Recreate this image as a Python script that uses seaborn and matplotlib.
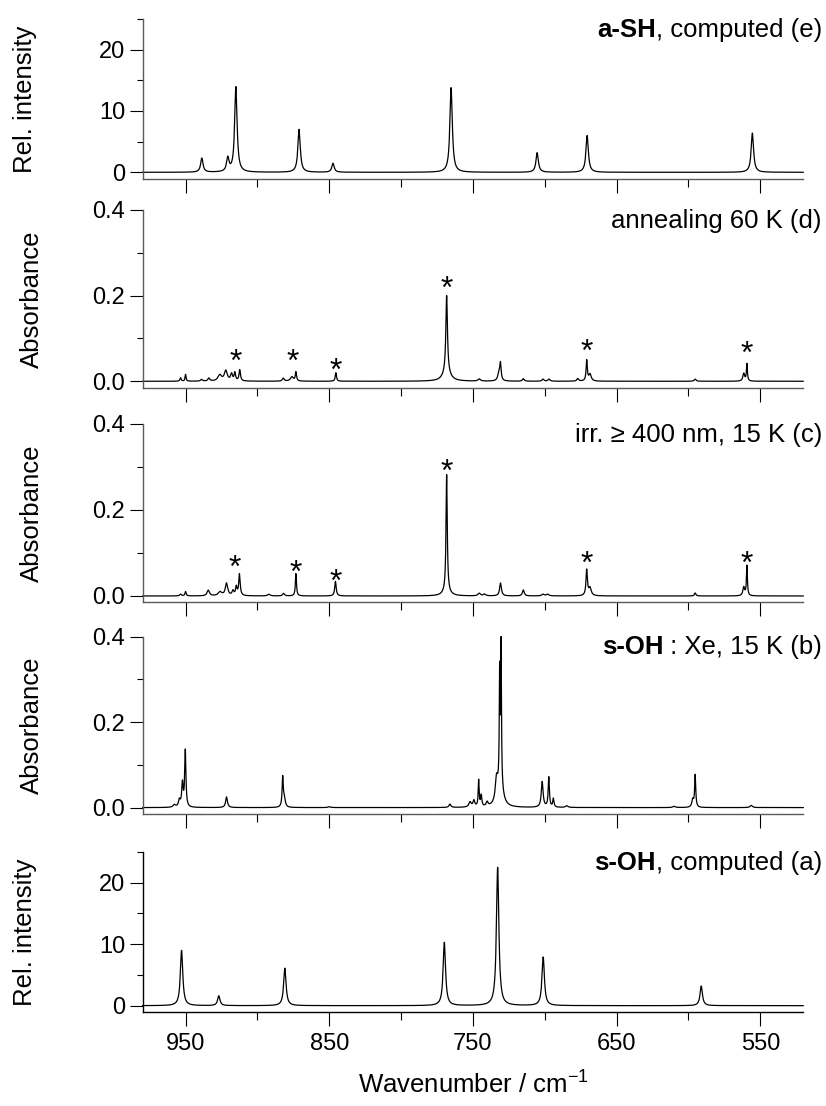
import numpy as np
import pandas as pd
import matplotlib
matplotlib.use("Agg")
import matplotlib.pyplot as plt
from matplotlib.ticker import FixedLocator, FormatStrFormatter
import seaborn as sns

# ---------------- data ----------------
# peak tables: position (cm-1), height, FWHM (cm-1)
e_pos = [938.7, 920.6, 915.0, 871.0, 847.4, 765.2, 705.3, 670.5, 555.5]
e_amp = [2.3, 2.2, 13.9, 7.0, 1.45, 13.8, 3.2, 6.0, 6.4]
e_fw = [2.0, 2.0, 2.0, 2.0, 2.0, 2.0, 2.0, 2.0, 2.0]

d_pos = [953.5, 950.0, 938.9, 933.8, 926.2, 922.0, 918.0, 915.7, 912.3, 882.0, 876.0,
         873.2, 845.4, 768.3, 768.3, 745.6, 731.8, 730.8, 714.9, 701.2, 697.0, 677.0,
         670.8, 668.5, 595.3, 561.5, 559.3]
d_amp = [0.008, 0.016, 0.004, 0.007, 0.014, 0.024, 0.016, 0.019, 0.026, 0.007, 0.010,
         0.021, 0.020, 0.180, 0.020, 0.005, 0.020, 0.036, 0.006, 0.005, 0.005, 0.006,
         0.048, 0.016, 0.005, 0.018, 0.040]
d_fw = [1.0, 0.8, 1.5, 1.5, 3.0, 2.5, 1.5, 1.2, 1.2, 1.5, 2.5,
        1.0, 1.0, 1.3, 6.0, 2.0, 2.0, 1.0, 1.5, 1.5, 1.5, 1.5,
        1.0, 2.0, 1.5, 1.5, 0.8]

c_pos = [953.5, 950.0, 934.2, 926.0, 921.5, 917.0, 914.7, 912.5, 892.0, 881.8, 873.2,
         845.7, 768.3, 768.3, 745.6, 742.0, 730.8, 714.9, 701.2, 698.0, 670.8, 668.5,
         595.3, 561.5, 559.3]
c_amp = [0.004, 0.010, 0.013, 0.009, 0.029, 0.011, 0.020, 0.050, 0.004, 0.006, 0.052,
         0.034, 0.270, 0.012, 0.006, 0.004, 0.030, 0.014, 0.004, 0.004, 0.060, 0.018,
         0.007, 0.020, 0.070]
c_fw = [1.5, 1.0, 2.0, 3.0, 2.0, 1.5, 1.2, 1.2, 2.0, 1.5, 0.9,
        1.2, 1.0, 5.0, 2.0, 2.0, 1.5, 1.5, 2.0, 2.0, 1.2, 2.0,
        1.2, 1.5, 0.8]

b_pos = [957.8, 954.3, 952.2, 950.2, 921.5, 882.4, 881.2, 850.0, 766.0, 752.0, 749.3,
         746.0, 744.2, 740.1, 733.6, 731.4, 730.4, 731.0, 701.8, 697.2, 694.0, 684.7,
         610.0, 597.0, 595.3, 556.3]
b_amp = [0.006, 0.016, 0.055, 0.132, 0.025, 0.070, 0.018, 0.002, 0.008, 0.012, 0.015,
         0.062, 0.026, 0.010, 0.050, 0.250, 0.320, 0.060, 0.060, 0.070, 0.020, 0.004,
         0.003, 0.018, 0.075, 0.005]
b_fw = [2.0, 1.5, 1.2, 1.0, 1.5, 1.0, 1.5, 2.0, 1.5, 2.0, 1.5,
        0.8, 1.0, 1.5, 2.0, 0.6, 0.6, 4.0, 1.5, 1.0, 1.0, 2.0,
        2.0, 1.5, 0.9, 2.0]

a_pos = [952.8, 926.9, 880.9, 769.9, 732.8, 701.1, 591.1]
a_amp = [9.0, 1.6, 6.1, 10.3, 22.5, 7.9, 3.2]
a_fw = [2.0, 2.0, 2.0, 2.0, 2.0, 2.0, 2.0]

# asterisk markers (x, y of glyph centre)
d_star_x = [915.2, 875.3, 845.4, 768.3, 670.8, 559.3]
d_star_y = [0.065, 0.065, 0.044, 0.236, 0.087, 0.083]
c_star_x = [915.5, 873.2, 845.7, 768.3, 670.8, 559.3]
c_star_y = [0.085, 0.074, 0.052, 0.307, 0.093, 0.095]

x_major = [950, 850, 750, 650, 550]
x_minor = [900, 800, 700, 600]

# ---------------- style ----------------
sns.set_style("ticks")
plt.rcParams["font.family"] = ["Liberation Sans", "DejaVu Sans"]
plt.rcParams["mathtext.fontset"] = "custom"
plt.rcParams["mathtext.rm"] = "Liberation Sans"
plt.rcParams["mathtext.default"] = "regular"
for k in ("text.color", "axes.labelcolor", "xtick.color", "ytick.color"):
    plt.rcParams[k] = "black"

FS = 18.5
TFS = 17

grid = np.linspace(520, 980, 9201)


def spectrum(pos, amp, fw):
    y = np.zeros_like(grid)
    for p, a, w in zip(pos, amp, fw):
        y += a / (1.0 + ((grid - p) / (w / 2.0)) ** 2)
    return y


fig = plt.figure(figsize=(8.26, 11.06), dpi=100)
W, H = 826.0, 1106.0
left_px, right_px = 142.5, 803.4

panels = [
    ("e", 19, 179, (-1.09, 25), "Rel. intensity", (e_pos, e_amp, e_fw), "int"),
    ("d", 210, 387.7, (-0.015, 0.4), "Absorbance", (d_pos, d_amp, d_fw), "abs"),
    ("c", 424, 602, (-0.014, 0.4), "Absorbance", (c_pos, c_amp, c_fw), "abs"),
    ("b", 636.7, 814, (-0.015, 0.4), "Absorbance", (b_pos, b_amp, b_fw), "abs"),
    ("a", 852, 1011.7, (-0.98, 25), "Rel. intensity", (a_pos, a_amp, a_fw), "int"),
]

labels = {
    "e": ("a-SH", ", computed (e)"),
    "d": (None, "annealing 60 K (d)"),
    "c": (None, "irr. \u2265 400 nm, 15 K (c)"),
    "b": ("s-OH", " : Xe, 15 K (b)"),
    "a": ("s-OH", ", computed (a)"),
}
stars = {"d": (d_star_x, d_star_y), "c": (c_star_x, c_star_y)}

for name, top, bot, ylim, ylab, (pos, amp, fw), kind in panels:
    ax = fig.add_axes([left_px / W, 1 - bot / H, (right_px - left_px) / W, (bot - top) / H])
    df = pd.DataFrame({"x": grid, "y": spectrum(pos, amp, fw)})
    sns.lineplot(data=df, x="x", y="y", ax=ax, color="black", lw=0.9,
                 estimator=None, errorbar=None, clip_on=False)
    ax.set_xlim(980, 520)
    ax.set_ylim(*ylim)
    sc = "black" if name == "a" else "#5a5a5a"
    for s in ("top", "right"):
        ax.spines[s].set_visible(False)
    for s in ("left", "bottom"):
        ax.spines[s].set_color(sc)
        ax.spines[s].set_linewidth(1.0)
    ax.xaxis.set_major_locator(FixedLocator(x_major))
    ax.xaxis.set_minor_locator(FixedLocator(x_minor))
    if kind == "int":
        ax.yaxis.set_major_locator(FixedLocator([0, 10, 20]))
        ax.yaxis.set_minor_locator(FixedLocator([5, 15, 25]))
        ax.yaxis.set_major_formatter(FormatStrFormatter("%d"))
        lx = (25 - left_px) / (right_px - left_px)
    else:
        ax.yaxis.set_major_locator(FixedLocator([0.0, 0.2, 0.4]))
        ax.yaxis.set_minor_locator(FixedLocator([0.1, 0.3]))
        ax.yaxis.set_major_formatter(FormatStrFormatter("%.1f"))
        lx = (32 - left_px) / (right_px - left_px)
    ax.tick_params(axis="y", which="major", direction="out", length=9.5, width=0.8,
                   color="black", labelsize=TFS, pad=3)
    ax.tick_params(axis="y", which="minor", direction="out", length=4.5, width=0.8,
                   color="black")
    ax.tick_params(axis="x", which="major", direction="out", length=10, width=0.8,
                   color="black", labelsize=TFS, pad=5)
    ax.tick_params(axis="x", which="minor", direction="out", length=5.5, width=0.8,
                   color="black")
    ax.set_ylabel(ylab, fontsize=FS, va="center")
    ax.yaxis.set_label_coords(lx, 0.5)
    if name == "a":
        ax.set_xlabel("Wavenumber / cm$^{\u2212 1}$", fontsize=FS, labelpad=12)
    else:
        ax.set_xlabel("")
        ax.tick_params(axis="x", labelbottom=False)

    bold, normal = labels[name]
    tx = 1.0 + (822 - right_px) / (right_px - left_px)
    t = ax.annotate(normal, xy=(tx, 1.0), xycoords="axes fraction",
                    xytext=(0, 1), textcoords="offset points",
                    ha="right", va="top", fontsize=FS)
    if bold:
        ax.annotate(bold, xy=(0, 0), xycoords=t, ha="right", va="bottom",
                    fontsize=FS, fontweight="bold")

    if name in stars:
        for sx, sy in zip(*stars[name]):
            ax.annotate("*", xy=(sx, sy), xytext=(0, -12.5), textcoords="offset points",
                        ha="center", va="baseline", fontsize=23)

fig.savefig("out.png", dpi=100)
